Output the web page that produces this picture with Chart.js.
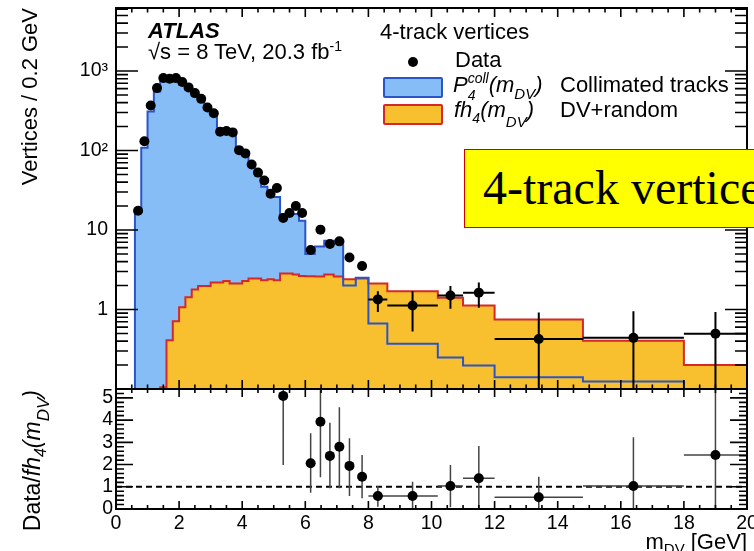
<!DOCTYPE html>
<html>
<head>
<meta charset="utf-8">
<script src="https://cdn.jsdelivr.net/npm/chart.js@4.4.1/dist/chart.umd.min.js"></script>
<style>
  html, body { margin: 0; padding: 0; background: #fff; }
  body { width: 754px; height: 551px; position: relative; overflow: hidden;
         font-family: "Liberation Sans", Arial, sans-serif; color: #000; }
  canvas { position: absolute; left: 0; }
  #mainChart { top: 0; }
  #ratioChart { top: 380px; }
  .txt { position: absolute; white-space: nowrap; font-size: 22px; line-height: 22px; }
  .it { font-style: italic; }
  .dn { position: relative; font-size: 15px; }
  .up { position: relative; font-size: 14px; }
  .stack { display: inline-block; position: relative; width: 21px; height: 22px; vertical-align: top; }
  .stack span { position: absolute; left: 0; font-size: 14px; line-height: 14px; }
  .vtitle { position: absolute; transform-origin: 0 0; transform: rotate(-90deg);
            text-align: right; white-space: nowrap; font-size: 22px; line-height: 22px; }
  .swatch { position: absolute; box-sizing: border-box; width: 60px; height: 21px;
            border: 2px solid; border-radius: 2px; }
  #note { position: absolute; left: 464px; top: 149px; width: 320px; height: 79px;
          box-sizing: border-box; background: #ffff00; border: 1.5px solid #d00000; }
  #note span { position: absolute; left: 18px; top: 14px; white-space: nowrap;
               font-family: "Liberation Serif", "Times New Roman", serif;
               font-size: 48px; line-height: 48px; }
</style>
</head>
<body>
<canvas id="mainChart" width="754" height="392"></canvas>
<canvas id="ratioChart" width="754" height="171"></canvas>

<div class="txt it" style="left:148px; top:20px; font-weight:bold;">ATLAS</div>
<div class="txt" style="left:148px; top:41px;">√s = 8 TeV, 20.3 fb<span class="up" style="top:-8px;">-1</span></div>

<div class="txt" style="left:380px; top:21px;">4-track vertices</div>
<div style="position:absolute; left:408px; top:57px; width:10px; height:10px; border-radius:50%; background:#000;"></div>
<div class="txt" style="left:455px; top:49px;">Data</div>
<div class="swatch" style="left:383px; top:77px; background:#87bdf7; border-color:#2a55c8;"></div>
<div class="txt it" style="left:453px; top:74px;">P<span class="stack"><span style="top:-3px;">coll</span><span style="top:14px;">4</span></span>(m<span class="dn" style="top:7px;">DV</span>)</div>
<div class="txt" style="left:560px; top:74px;">Collimated tracks</div>
<div class="swatch" style="left:383px; top:104px; background:#f8c02e; border-color:#d62828;"></div>
<div class="txt it" style="left:454px; top:99px;">fh<span class="up" style="top:6px;">4</span>(m<span class="dn" style="top:10px;">DV</span>)</div>
<div class="txt" style="left:560px; top:99px;">DV+random</div>

<div class="vtitle" style="left:19px; top:389px; width:381px;">Vertices / 0.2 GeV</div>
<div class="vtitle" style="left:21px; top:551px; width:161px; font-size:23px; line-height:23px;">Data/<span class="it">fh</span><span class="up it" style="top:6px; font-size:16px;">4</span><span class="it">(m</span><span class="dn it" style="top:9px; font-size:17px;">DV</span><span class="it">)</span></div>
<div class="txt" style="right:7px; top:531px;">m<span class="dn" style="top:5px;">DV</span> [GeV]</div>

<div id="note"><span>4-track vertices</span></div>

<script>
// histogram bin edges in GeV (0.2 GeV bins up to 6 GeV, wider above)
const binEdges = [0.0, 0.2, 0.4, 0.6, 0.8, 1.0, 1.2, 1.4, 1.6, 1.8, 2.0, 2.2, 2.4, 2.6, 2.8, 3.0,
  3.2, 3.4, 3.6, 3.8, 4.0, 4.2, 4.4, 4.6, 4.8, 5.0, 5.2, 5.4, 5.6, 5.8, 6.0,
  6.3, 6.6, 6.9, 7.2, 7.6, 8.0, 8.6, 10.2, 11.0, 12.0, 14.8, 18.0, 20.0];

// P4coll(mDV), collimated tracks (vertices / 0.2 GeV)
const collimated = [0.1, 0.1, 0.1, 16.7, 108, 309, 553, 741, 745, 735, 670, 580, 490, 415, 330,
  278, 190, 176, 162, 108, 95, 68, 52, 35, 27, 26, 15.9, 15.9, 15.9, 13.1,
  5.0, 6.2, 7.3, 7.3, 2.0, 2.5, 0.665, 0.371, 0.249, 0.197, 0.141, 0.124, 0.1];

// fh4(mDV), DV + random track
const randomTrack = [0.1, 0.1, 0.1, 0.1, 0.1, 0.1, 0.1, 0.105, 0.41, 0.71, 1.07, 1.43, 1.79, 1.97, 1.97,
  2.18, 2.18, 2.28, 2.13, 2.13, 2.28, 2.45, 2.45, 2.33, 2.4, 2.33, 2.83, 2.83, 2.75, 2.64,
  2.62, 2.6, 2.76, 2.6, 2.4, 2.45, 2.13, 1.7, 1.41, 1.12, 0.747, 0.405, 0.201];

// data points
const dataX = [0.7, 0.9, 1.1, 1.3, 1.5, 1.7, 1.9, 2.1, 2.3, 2.5, 2.7, 2.9, 3.1, 3.3, 3.5, 3.7, 3.9,
  4.1, 4.3, 4.5, 4.7, 4.9, 5.1, 5.3, 5.5, 5.7, 5.9, 6.17, 6.48, 6.78, 7.08, 7.4, 7.8,
  8.3, 9.4, 10.6, 11.5, 13.4, 16.4, 19.0];
const dataY = [17.5, 131, 368, 609, 815, 799, 815, 726, 622, 527, 446, 347, 294, 172, 176, 169, 101,
  92, 66.5, 52.7, 42, 28.6, 33.7, 14.2, 16.4, 20, 16.4, 5.6, 10.1, 6.65, 7.2, 4.5, 3.53,
  1.34, 1.12, 1.5, 1.63, 0.425, 0.44, 0.497];

// error bars of the wide-bin points (last seven data points)
const wideLo = [8.0, 8.6, 10.2, 11.0, 12.0, 14.8, 18.0];
const wideHi = [8.6, 10.2, 11.0, 12.0, 14.8, 18.0, 20.0];
const dataErrLow = [0.93, 0.53, 1.02, 1.05, 0.01, 0.01, 0.01];
const dataErrHigh = [1.7, 1.7, 1.97, 2.18, 0.92, 0.95, 0.93];

// Data / fh4 ratio
const ratioX = [5.3, 6.17, 6.48, 6.78, 7.08, 7.4, 7.8, 8.3, 9.4, 10.6, 11.5, 13.4, 16.4, 19.0];
const ratioY = [5.09, 2.06, 3.93, 2.39, 2.8, 1.94, 1.45, 0.585, 0.585, 1.035, 1.38, 0.53, 1.035, 2.43];
const ratioLow = [1.98, 0.73, 1.43, 0.93, 0.93, 0.585, 0.48, 0.1, 0.05, 0.08, 0, 0, 0, 0];
const ratioHigh = [6.5, 3.41, 6.0, 3.88, 4.58, 3.18, 2.43, 1.035, 1.23, 1.98, 2.84, 1.45, 3.23, 6.0];

// axis ticks
const xTickValues = [0, 2, 4, 6, 8, 10, 12, 14, 16, 18, 20];
const mainTickValues = [1, 10, 100, 1000];
const mainTickLabels = ['1', '10', '10²', '10³'];
const ratioTickValues = [0, 1, 2, 3, 4, 5];

const blueFill = '#87bdf7';
const blueLine = '#2a55c8';
const yellowFill = '#f8c02e';
const redLine = '#d62828';

Chart.defaults.font.family = '"Liberation Sans", Arial, sans-serif';
Chart.defaults.color = '#000';

function histLine(edges, values) {
  const pts = values.map((v, i) => ({ x: edges[i], y: v }));
  pts.push({ x: edges[edges.length - 1], y: values[values.length - 1] });
  return pts;
}

// vertical (and optional horizontal) error bars as one broken line
function errorSegments(xs, ys, lo, hi, xlo, xhi, offset) {
  const seg = [];
  xs.forEach((x, i) => {
    seg.push({ x: x, y: lo[i] }, { x: x, y: hi[i] }, { x: x, y: null });
    const j = i - offset;
    if (j >= 0) {
      seg.push({ x: xlo[j], y: ys[i] }, { x: xhi[j], y: ys[i] }, { x: xhi[j], y: null });
    }
  });
  return seg;
}

// ROOT style frame with inward ticks on all four sides
function frameTicks(cfg) {
  return {
    id: 'frameTicks',
    afterDatasetsDraw(chart) {
      const { ctx, chartArea: a } = chart;
      const xs = chart.scales.x, ys = chart.scales.y;
      ctx.save();
      ctx.strokeStyle = '#000';
      ctx.lineWidth = 1.6;
      ctx.beginPath();
      cfg.xTicks.forEach(([v, major]) => {
        const px = xs.getPixelForValue(v);
        const len = major ? cfg.xLen[0] : cfg.xLen[1];
        ctx.moveTo(px, a.bottom); ctx.lineTo(px, a.bottom - len);
        ctx.moveTo(px, a.top); ctx.lineTo(px, a.top + len);
      });
      cfg.yTicks.forEach(([v, major]) => {
        const py = ys.getPixelForValue(v);
        const len = major ? cfg.yLen[0] : cfg.yLen[1];
        ctx.moveTo(a.left, py); ctx.lineTo(a.left + len, py);
        ctx.moveTo(a.right, py); ctx.lineTo(a.right - len, py);
      });
      ctx.stroke();
      ctx.lineWidth = 2;
      ctx.strokeRect(a.left, a.top, a.right - a.left, a.bottom - a.top);
      ctx.restore();
    }
  };
}

const xMinor = [];
for (let i = 0; i <= 40; i++) xMinor.push([i * 0.5, i % 4 === 0]);
const logMinor = [];
[0.1, 1, 10, 100, 1000].forEach(d => {
  for (let m = 1; m <= 9; m++) {
    const v = d * m;
    if (v > 0.1 && v <= 6200) logMinor.push([v, m === 1]);
  }
});
const ratioMinor = [];
for (let i = 0; i <= 27; i++) ratioMinor.push([i * 0.2, i % 5 === 0]);

const yAxisFit = scale => { scale.width = 116; scale.paddingTop = 0; scale.paddingBottom = 0; };
const noGrid = { display: false, drawTicks: false };

new Chart(document.getElementById('mainChart'), {
  type: 'line',
  data: {
    datasets: [
      { label: 'collimated fill', data: histLine(binEdges, collimated), stepped: true, fill: 'start',
        backgroundColor: blueFill, borderColor: 'rgba(0,0,0,0)', borderWidth: 1, pointRadius: 0, order: 6 },
      { label: 'DV+random', data: histLine(binEdges, randomTrack), stepped: true, fill: 'start',
        backgroundColor: yellowFill, borderColor: redLine, borderWidth: 2, pointRadius: 0, order: 5 },
      { label: 'Collimated tracks', data: histLine(binEdges, collimated), stepped: true, fill: false,
        borderColor: blueLine, borderWidth: 2, pointRadius: 0, order: 4 },
      { label: 'errors', data: errorSegments(dataX.slice(33), dataY.slice(33), dataErrLow, dataErrHigh, wideLo, wideHi, 0),
        borderColor: '#000', borderWidth: 2, pointRadius: 0, fill: false, order: 3 },
      { label: 'Data', data: dataX.map((x, i) => ({ x: x, y: dataY[i] })), showLine: false,
        pointRadius: 5, pointBackgroundColor: '#000', pointBorderWidth: 0, order: 2 }
    ]
  },
  options: {
    responsive: false, animation: false, events: [],
    layout: { padding: { left: 0, right: 7, top: 8, bottom: 3 }, autoPadding: false },
    plugins: { legend: { display: false }, tooltip: { enabled: false } },
    scales: {
      x: { type: 'linear', min: 0, max: 20, display: false,
           afterFit: s => { s.paddingLeft = 0; s.paddingRight = 0; } },
      y: { type: 'logarithmic', min: 0.1, max: 6200,
           grid: noGrid, border: { display: false },
           ticks: { font: { size: 19.5 }, color: '#000', padding: 8, autoSkip: false,
                    callback: v => mainTickLabels[mainTickValues.indexOf(v)] },
           afterBuildTicks: s => { s.ticks = mainTickValues.map(v => ({ value: v })); },
           afterFit: yAxisFit }
    }
  },
  plugins: [frameTicks({ xTicks: xMinor, xLen: [9, 4.5], yTicks: logMinor, yLen: [22, 12] })]
});

new Chart(document.getElementById('ratioChart'), {
  type: 'line',
  data: {
    datasets: [
      { label: 'unity', data: [{ x: 0, y: 1 }, { x: 20, y: 1 }], borderColor: '#000', borderWidth: 2,
        borderDash: [6, 4], pointRadius: 0, fill: false, order: 4 },
      { label: 'ratio errors', data: errorSegments(ratioX, ratioY, ratioLow, ratioHigh, wideLo, wideHi, 7),
        borderColor: '#444', borderWidth: 1.5, pointRadius: 0, fill: false, order: 3 },
      { label: 'Data/fh4', data: ratioX.map((x, i) => ({ x: x, y: ratioY[i] })), showLine: false,
        pointRadius: 5, pointBackgroundColor: '#000', pointBorderWidth: 0, order: 2 }
    ]
  },
  options: {
    responsive: false, animation: false, events: [],
    layout: { padding: { left: 0, right: 7, top: 9, bottom: 0 }, autoPadding: false },
    plugins: { legend: { display: false }, tooltip: { enabled: false } },
    scales: {
      x: { type: 'linear', min: 0, max: 20,
           grid: noGrid, border: { display: false },
           ticks: { font: { size: 19.5 }, color: '#000', padding: 3, maxRotation: 0, autoSkip: false },
           afterBuildTicks: s => { s.ticks = xTickValues.map(v => ({ value: v })); },
           afterFit: s => { s.height = 42; s.paddingLeft = 0; s.paddingRight = 0; } },
      y: { type: 'linear', min: 0, max: 5.4,
           grid: noGrid, border: { display: false },
           ticks: { font: { size: 19.5 }, color: '#000', padding: 3, autoSkip: false },
           afterBuildTicks: s => { s.ticks = ratioTickValues.map(v => ({ value: v })); },
           afterFit: yAxisFit }
    }
  },
  plugins: [frameTicks({ xTicks: xMinor, xLen: [8, 4], yTicks: ratioMinor, yLen: [17, 8] })]
});
</script>
</body>
</html>
